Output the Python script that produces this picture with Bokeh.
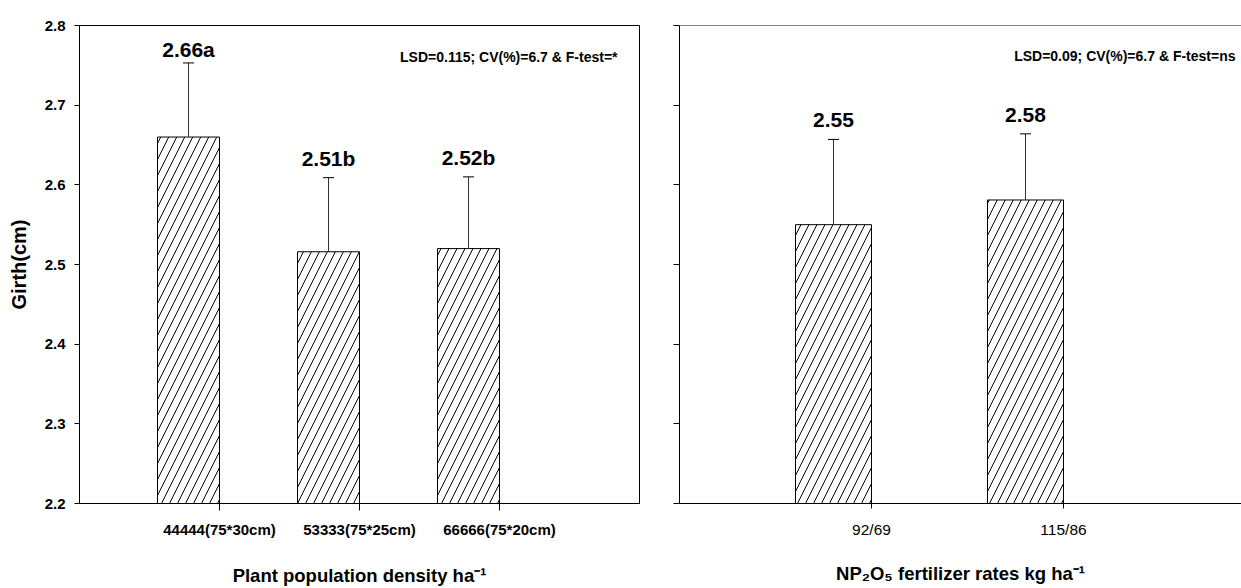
from bokeh.plotting import figure
from bokeh.layouts import row
from bokeh.models import Range1d, FixedTicker, Label, Span
from bokeh.embed import file_html
from bokeh.resources import INLINE
from bokeh.core.properties import value

# ---------------- data ----------------
density_labels = ["44444(75*30cm)", "53333(75*25cm)", "66666(75*20cm)"]
density_girth = [2.66, 2.516, 2.52]
density_err = [0.093, 0.093, 0.090]
density_text = ["2.66a", "2.51b", "2.52b"]

fert_labels = ["92/69", "115/86"]
fert_girth = [2.55, 2.581]
fert_err = [0.107, 0.083]
fert_text = ["2.55", "2.58"]

y_ticks = [2.2, 2.3, 2.4, 2.5, 2.6, 2.7, 2.8]
y_tick_labels = ["2.2", "2.3", "2.4", "2.5", "2.6", "2.7", "2.8"]

stats_left = "LSD=0.115; CV(%)=6.7 & F-test=*"
stats_right = "LSD=0.09; CV(%)=6.7 & F-test=ns"
y_title = "Girth(cm)"
x_title_left = "Plant population density ha\u207b\u00b9"
x_title_right = "NP\u2082O\u2085 fertilizer rates kg ha\u207b\u00b9"

# ---------------- layout / style ----------------
FONT = "Liberation Sans"
Y0, Y1 = 2.2, 2.8
PAGE_TOP, PAGE_BOTTOM = 25, 503
PXY = (PAGE_BOTTOM - PAGE_TOP) / (Y1 - Y0)
H = 588


def ydat(page_y):
    return Y1 - (page_y - PAGE_TOP) / PXY


def style_common(p):
    p.xgrid.visible = False
    p.ygrid.visible = False
    p.background_fill_color = "white"
    p.border_fill_color = "white"


def style_yaxis(ax, tick_out, show_labels):
    ax.ticker = FixedTicker(ticks=y_ticks)
    ax.major_tick_out = tick_out
    ax.major_tick_in = 0
    ax.minor_tick_out = 0
    ax.minor_tick_in = 0
    ax.axis_line_color = "black"
    ax.major_tick_line_color = "black"
    if show_labels:
        ax.major_label_overrides = {t: l for t, l in zip(y_ticks, y_tick_labels)}
        ax.major_label_standoff = 9
        ax.major_label_text_font = FONT
        ax.major_label_text_font_style = "bold"
        ax.major_label_text_font_size = "15px"
        ax.major_label_text_color = "black"
    else:
        ax.major_label_overrides = {t: "" for t in y_ticks}
        ax.major_label_standoff = 0
        ax.major_label_text_font_size = "0px"


def style_xaxis(ax, ticks, labels, tick_out, standoff, bold, size):
    ax.ticker = FixedTicker(ticks=ticks)
    ax.major_label_overrides = {t: l for t, l in zip(ticks, labels)}
    ax.major_tick_out = tick_out
    ax.major_tick_in = 0
    ax.minor_tick_out = 0
    ax.minor_tick_in = 0
    ax.axis_line_color = "black"
    ax.major_tick_line_color = "black"
    ax.major_label_standoff = standoff
    ax.major_label_text_font = FONT
    ax.major_label_text_font_style = "bold" if bold else "normal"
    ax.major_label_text_font_size = size
    ax.major_label_text_color = "black"


def set_axis_title(ax, text, size, standoff):
    ax.axis_label = text
    ax.axis_label_text_font = FONT
    ax.axis_label_text_font_style = "bold"
    ax.axis_label_text_font_size = size
    ax.axis_label_text_color = "black"
    ax.axis_label_standoff = standoff


def bars(p, ticks, girth, err, texts, bar_w, gaps_px):
    centers = [t - bar_w / 2 for t in ticks]
    p.vbar(x=centers, width=bar_w, top=girth, bottom=Y0, fill_color="white",
           line_color="black", line_width=1, hatch_pattern="/", hatch_color="black",
           hatch_weight=1, hatch_scale=16)
    tops = [g + e for g, e in zip(girth, err)]
    p.segment(x0=centers, y0=girth, x1=centers, y1=tops, line_color="#333333", line_width=1)
    p.scatter(x=centers, y=tops, marker="dash", size=11, line_color="black", line_width=1)
    p.text(x=centers, y=[t + g / PXY for t, g in zip(tops, gaps_px)], text=texts,
           text_font=value(FONT), text_font_style="bold", text_font_size="21px",
           text_align="center", text_baseline="alphabetic", text_color="black")


# ---------------- left panel ----------------
L_FRAME_LEFT = 79
left_ticks = [1, 2, 3]
p1 = figure(width=660, height=H, x_range=Range1d(0, 4), y_range=Range1d(Y0, Y1),
            min_border_left=L_FRAME_LEFT, min_border_right=21, min_border_top=PAGE_TOP,
            min_border_bottom=H - PAGE_BOTTOM, output_backend="svg", toolbar_location=None)
style_common(p1)
p1.outline_line_color = "black"
p1.outline_line_width = 1
p1.outline_line_alpha = 1
style_yaxis(p1.yaxis[0], 5, True)
set_axis_title(p1.yaxis[0], y_title, "20px", 12)
style_xaxis(p1.xaxis[0], left_ticks, density_labels, 7, 10, True, "15px")
set_axis_title(p1.xaxis[0], x_title_left, "18.5px", 24)
bars(p1, left_ticks, density_girth, density_err, density_text, 62 / 140, [13, 19, 19])

p1.add_layout(Label(x=0, y=ydat(56), x_offset=617 - L_FRAME_LEFT, text=stats_left,
                    text_align="right", text_baseline="alphabetic", text_font=FONT,
                    text_font_style="bold", text_font_size="14px", text_color="black"))

# ---------------- right panel ----------------
R_FRAME_LEFT = 679
R_PX_PER_X = 192
right_ticks = [1, 2]
p2 = figure(width=1241 - 660, height=H, x_range=Range1d(0, (1241 - R_FRAME_LEFT) / R_PX_PER_X),
            y_range=Range1d(Y0, Y1),
            min_border_left=R_FRAME_LEFT - 660, min_border_right=0, min_border_top=PAGE_TOP,
            min_border_bottom=H - PAGE_BOTTOM, output_backend="svg", toolbar_location=None)
style_common(p2)
p2.outline_line_color = None
p2.add_layout(Span(location=Y1, dimension="width", line_color="black", line_width=1))
style_yaxis(p2.yaxis[0], 6, False)
style_xaxis(p2.xaxis[0], right_ticks, fert_labels, 5, 12, False, "15.5px")
set_axis_title(p2.xaxis[0], x_title_right, "18.5px", 22)
bars(p2, right_ticks, fert_girth, fert_err, fert_text, 76 / R_PX_PER_X, [19, 19])

p2.add_layout(Label(x=0, y=ydat(55), x_offset=1235 - R_FRAME_LEFT, text=stats_right,
                    text_align="right", text_baseline="alphabetic", text_font=FONT,
                    text_font_style="bold", text_font_size="14px", text_color="black"))

layout = row(p1, p2)
open("out.html", "w").write(file_html(layout, INLINE))
